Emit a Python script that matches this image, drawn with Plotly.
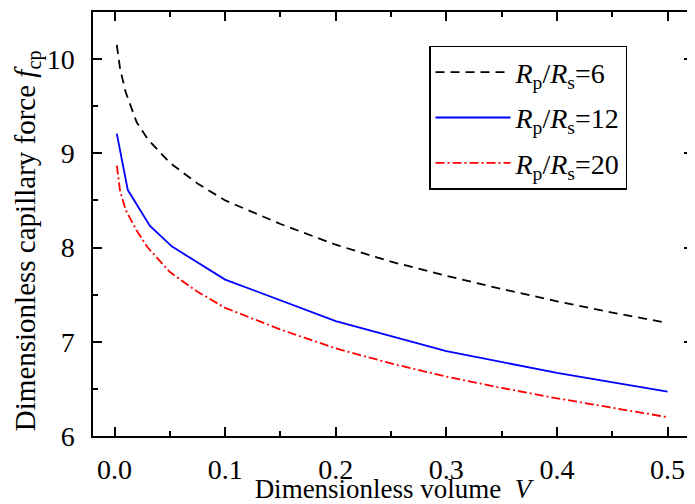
import plotly.graph_objects as go

# Data
V6 = [0.002, 0.005, 0.01, 0.02, 0.03, 0.05, 0.075, 0.1, 0.15, 0.2, 0.25, 0.3, 0.35, 0.4, 0.45, 0.5]
F6 = [10.15, 9.9, 9.65, 9.33, 9.15, 8.9, 8.68, 8.5, 8.25, 8.03, 7.85, 7.7, 7.56, 7.43, 7.31, 7.2]

V12 = [0.002, 0.012, 0.032, 0.052, 0.1, 0.2, 0.3, 0.4, 0.5]
F12 = [9.21, 8.61, 8.23, 8.01, 7.66, 7.22, 6.9, 6.67, 6.47]

V20 = [0.002, 0.005, 0.01, 0.02, 0.03, 0.05, 0.075, 0.1, 0.15, 0.2, 0.25, 0.3, 0.35, 0.4, 0.45, 0.5]
F20 = [8.87, 8.6, 8.4, 8.18, 8.0, 7.74, 7.53, 7.36, 7.13, 6.93, 6.77, 6.63, 6.51, 6.4, 6.3, 6.2]

names = ["<i>R</i><sub>p</sub>/<i>R</i><sub>s</sub>=6",
         "<i>R</i><sub>p</sub>/<i>R</i><sub>s</sub>=12",
         "<i>R</i><sub>p</sub>/<i>R</i><sub>s</sub>=20"]

X_TICKS = [0, 0.1, 0.2, 0.3, 0.4, 0.5]
X_TICKTEXT = ["0.0", "0.1", "0.2", "0.3", "0.4", "0.5"]
Y_TICKS = [6, 7, 8, 9, 10]

FONT = "Liberation Serif, Times New Roman, serif"

fig = go.Figure()
fig.add_trace(go.Scatter(x=V6, y=F6, mode="lines", name=names[0], legendgroup="a",
                         line=dict(color="black", width=1.8, dash="9px,6px")))
fig.add_trace(go.Scatter(x=V12, y=F12, mode="lines", name=names[1], legendgroup="b",
                         line=dict(color="#0000FF", width=1.8)))
fig.add_trace(go.Scatter(x=V20, y=F20, mode="lines", name=names[2], legendgroup="c",
                         line=dict(color="#FF0000", width=1.8, dash="9px,3px,2px,3px")))

# page has an 8px body margin, so the figure is sized to fill the window from (8, 8)
fig.update_layout(
    width=687, height=496,
    margin=dict(l=85, r=0, t=4, b=68),
    paper_bgcolor="white", plot_bgcolor="white",
    font=dict(family=FONT, size=28, color="black"),
    showlegend=True,
    legend=dict(x=0.56, y=0.92, xanchor="left", yanchor="top",
                bordercolor="black", borderwidth=1.5, bgcolor="white",
                font=dict(family=FONT, size=28), tracegroupgap=6,
                itemwidth=75),
)
fig.update_xaxes(
    range=[-0.0195, 0.523], tickvals=X_TICKS, ticktext=X_TICKTEXT,
    ticks="inside", ticklen=9, tickwidth=1.5, tickcolor="black",
    minor=dict(tickvals=[0.05, 0.15, 0.25, 0.35, 0.45], ticks="inside", ticklen=5, tickwidth=1.5, tickcolor="black"),
    showline=True, linecolor="black", linewidth=1.5, mirror="allticks",
    showgrid=False, zeroline=False, ticklabelstandoff=8,
    tickfont=dict(family=FONT, size=28),
    title=dict(text="Dimensionless volume  <i>V</i>", font=dict(family=FONT, size=27), standoff=0),
)
fig.update_yaxes(
    range=[6, 10.5], tickvals=Y_TICKS,
    ticks="inside", ticklen=9, tickwidth=1.5, tickcolor="black",
    minor=dict(tickvals=[6.5, 7.5, 8.5, 9.5, 10.5], ticks="inside", ticklen=5, tickwidth=1.5, tickcolor="black"),
    showline=True, linecolor="black", linewidth=1.5, mirror="allticks",
    showgrid=False, zeroline=False, ticklabelstandoff=11,
    tickfont=dict(family=FONT, size=28),
)
fig.add_annotation(
    text="Dimensionless capillary force <i>f</i><sub>cp</sub>",
    xref="paper", yref="paper", x=-0.108, y=0.46, xanchor="center", yanchor="middle",
    textangle=-90, showarrow=False, font=dict(family=FONT, size=29),
)

fig.write_html("out.html")
